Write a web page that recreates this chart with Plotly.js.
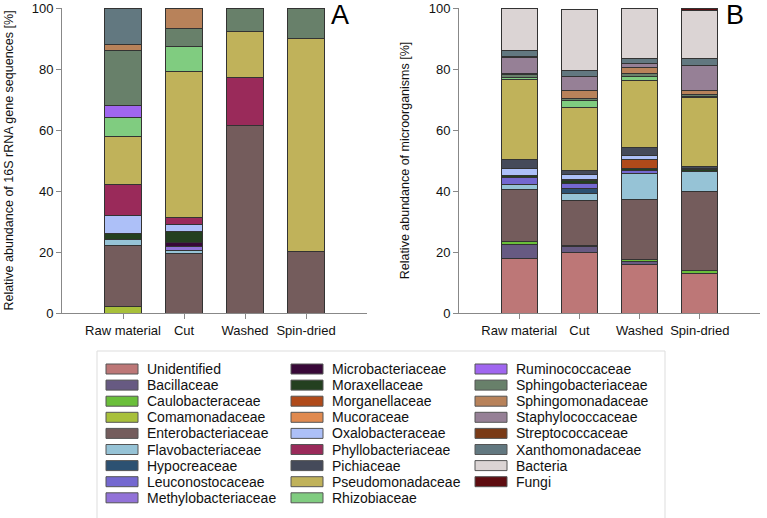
<!DOCTYPE html>
<html>
<head>
<meta charset="utf-8">
<script src="https://cdn.plot.ly/plotly-3.0.1.min.js"></script>
<style>html,body{margin:0;padding:0;background:#fff;}#chart{width:767px;height:518px;}</style>
</head>
<body>
<div id="chart"></div>
<script>
// ---------- data ----------
const samples = ['Raw material', 'Cut', 'Washed', 'Spin-dried'];
const families = ['Unidentified','Bacillaceae','Caulobacteraceae','Comamonadaceae','Enterobacteriaceae',
  'Flavobacteriaceae','Hypocreaceae','Leuconostocaceae','Methylobacteriaceae','Microbacteriaceae',
  'Moraxellaceae','Morganellaceae','Mucoraceae','Oxalobacteraceae','Phyllobacteriaceae','Pichiaceae',
  'Pseudomonadaceae','Rhizobiaceae','Ruminococcaceae','Sphingobacteriaceae','Sphingomonadaceae',
  'Staphylococcaceae','Streptococcaceae','Xanthomonadaceae','Bacteria','Fungi'];
const familyColors = ['#bd7777','#675a82','#6abf3a','#a8c03a','#745c5c',
  '#96c3d6','#2c5172','#7468d0','#9272d8','#380838',
  '#244020','#b04a1a','#e08a50','#adc0f8','#9a2a5a','#454a5a',
  '#c0b25a','#80cc80','#a066f0','#68806a','#b8825a',
  '#968096','#7a3a16','#627880','#dbd4d4','#5e0c10'];

// Panel A: relative abundance of 16S rRNA gene sequences [%]
const a_Comamonadaceae      = [2.0, 0, 0, 0];
const a_Enterobacteriaceae  = [20.0, 19.6, 61.6, 20.1];
const a_Flavobacteriaceae   = [2.0, 1.0, 0, 0];
const a_Methylobacteriaceae = [0, 1.2, 0, 0];
const a_Microbacteriaceae   = [0, 1.4, 0, 0];
const a_Moraxellaceae       = [2.0, 3.4, 0, 0];
const a_Oxalobacteraceae    = [6.0, 2.3, 0, 0];
const a_Phyllobacteriaceae  = [10.0, 2.3, 15.5, 0];
const a_Pseudomonadaceae    = [16.0, 48.1, 15.3, 70.0];
const a_Rhizobiaceae        = [6.0, 8.2, 0, 0];
const a_Ruminococcaceae     = [4.0, 0, 0, 0];
const a_Sphingobacteriaceae = [18.0, 5.7, 7.6, 9.9];
const a_Sphingomonadaceae   = [2.0, 6.8, 0, 0];
const a_Xanthomonadaceae    = [12.0, 0, 0, 0];

// Panel B: relative abundance of microorganisms [%]
const b_Unidentified        = [17.9, 19.9, 16.0, 13.0];
const b_Bacillaceae         = [4.5, 1.8, 0.8, 0];
const b_Caulobacteraceae    = [1.1, 0.5, 0.7, 0.9];
const b_Enterobacteriaceae  = [17.1, 14.7, 19.8, 26.0];
const b_Flavobacteriaceae   = [1.6, 2.3, 8.4, 6.5];
const b_Hypocreaceae        = [0, 1.7, 0, 0];
const b_Leuconostocaceae    = [2.3, 1.6, 0.9, 0];
const b_Moraxellaceae       = [0.7, 0.9, 0.9, 0.5];
const b_Morganellaceae      = [0, 0.5, 2.9, 0];
const b_Oxalobacteraceae    = [2.1, 1.4, 1.1, 0.6];
const b_Pichiaceae          = [2.9, 1.5, 2.8, 0.5];
const b_Pseudomonadaceae    = [26.2, 20.6, 21.9, 22.6];
const b_Rhizobiaceae        = [0.8, 2.4, 1.5, 0.5];
const b_Sphingobacteriaceae = [0.9, 0.5, 0.9, 0.5];
const b_Sphingomonadaceae   = [0.5, 2.7, 1.9, 1.4];
const b_Staphylococcaceae   = [5.3, 4.7, 1.4, 8.0];
const b_Streptococcaceae    = [0.3, 0, 0, 0];
const b_Xanthomonadaceae    = [1.9, 1.9, 1.5, 2.4];
const b_Bacteria            = [13.9, 20.0, 16.5, 15.9];
const b_Fungi               = [0, 0, 0, 0.5];

const yTitleA = 'Relative abundance of 16S rRNA gene sequences [%]';
const yTitleB = 'Relative abundance of microorganisms [%]';

// ---------- lookup tables built from the arrays ----------
const seriesA = {
  Comamonadaceae: a_Comamonadaceae, Enterobacteriaceae: a_Enterobacteriaceae,
  Flavobacteriaceae: a_Flavobacteriaceae, Methylobacteriaceae: a_Methylobacteriaceae,
  Microbacteriaceae: a_Microbacteriaceae, Moraxellaceae: a_Moraxellaceae,
  Oxalobacteraceae: a_Oxalobacteraceae, Phyllobacteriaceae: a_Phyllobacteriaceae,
  Pseudomonadaceae: a_Pseudomonadaceae, Rhizobiaceae: a_Rhizobiaceae,
  Ruminococcaceae: a_Ruminococcaceae, Sphingobacteriaceae: a_Sphingobacteriaceae,
  Sphingomonadaceae: a_Sphingomonadaceae, Xanthomonadaceae: a_Xanthomonadaceae
};
const seriesB = {
  Unidentified: b_Unidentified, Bacillaceae: b_Bacillaceae, Caulobacteraceae: b_Caulobacteraceae,
  Enterobacteriaceae: b_Enterobacteriaceae, Flavobacteriaceae: b_Flavobacteriaceae,
  Hypocreaceae: b_Hypocreaceae, Leuconostocaceae: b_Leuconostocaceae, Moraxellaceae: b_Moraxellaceae,
  Morganellaceae: b_Morganellaceae, Oxalobacteraceae: b_Oxalobacteraceae, Pichiaceae: b_Pichiaceae,
  Pseudomonadaceae: b_Pseudomonadaceae, Rhizobiaceae: b_Rhizobiaceae,
  Sphingobacteriaceae: b_Sphingobacteriaceae, Sphingomonadaceae: b_Sphingomonadaceae,
  Staphylococcaceae: b_Staphylococcaceae, Streptococcaceae: b_Streptococcaceae,
  Xanthomonadaceae: b_Xanthomonadaceae, Bacteria: b_Bacteria, Fungi: b_Fungi
};

// ---------- traces ----------
const FONT = 'Liberation Sans, Arial, Helvetica, sans-serif';
const traces = [];
function addPanel(series, xa, ya) {
  families.forEach((f, i) => {
    if (!series[f]) return;
    traces.push({
      type: 'bar', name: f, x: samples,
      y: series[f].map(v => v === 0 ? null : v),
      xaxis: xa, yaxis: ya, showlegend: false,
      marker: { color: familyColors[i], line: { color: '#333333', width: 1 } },
      hovertemplate: f + ': %{y}%<extra></extra>'
    });
  });
}
addPanel(seriesA, 'x', 'y');
addPanel(seriesB, 'x2', 'y2');

// ---------- layout ----------
const W = 767, H = 518, ML = 62, MR = 7, MT = 8, MB = 205;
const PW = W - ML - MR, PH = H - MT - MB;
const px = x => (x - ML) / PW;
const py = y => (H - MB - y) / PH;

const shapes = [];
const annotations = [];
// legend frame
shapes.push({ type: 'rect', xref: 'paper', yref: 'paper', x0: px(97), x1: px(665), y0: py(351), y1: py(522),
  line: { color: '#dddddd', width: 1 }, fillcolor: 'rgba(0,0,0,0)' });
const colSwatchX = [106, 291, 475], colTextX = [145, 330, 514];
families.forEach((f, i) => {
  const col = Math.floor(i / 9), row = i % 9;
  const cy = 369 + row * 16.1;
  shapes.push({ type: 'rect', xref: 'paper', yref: 'paper',
    x0: px(colSwatchX[col]), x1: px(colSwatchX[col] + 32), y0: py(cy + 5), y1: py(cy - 5),
    fillcolor: familyColors[i], line: { color: '#555555', width: 1 } });
  annotations.push({ xref: 'paper', yref: 'paper', x: px(colTextX[col]), y: py(cy),
    xanchor: 'left', yanchor: 'middle', showarrow: false, text: f,
    font: { family: FONT, size: 14, color: '#111111' } });
});
// panel letters
annotations.push({ xref: 'paper', yref: 'paper', x: px(340), y: py(15), xanchor: 'center', yanchor: 'middle',
  showarrow: false, text: 'A', font: { family: FONT, size: 27, color: '#000' } });
annotations.push({ xref: 'paper', yref: 'paper', x: px(735), y: py(15), xanchor: 'center', yanchor: 'middle',
  showarrow: false, text: 'B', font: { family: FONT, size: 27, color: '#000' } });

const axisCommon = {
  showline: true, linecolor: '#888888', linewidth: 1,
  ticks: 'outside', ticklen: 5, tickcolor: '#888888', showgrid: false, zeroline: false,
  tickfont: { family: FONT, size: 13, color: '#111111' }
};
const layout = {
  width: W, height: H, margin: { l: ML, r: MR, t: MT, b: MB },
  paper_bgcolor: '#ffffff', plot_bgcolor: '#ffffff',
  barmode: 'stack', bargap: 0.4, showlegend: false,
  font: { family: FONT, color: '#111111' },
  xaxis: Object.assign({}, axisCommon, { domain: [0, px(367)], range: [-1, 4], anchor: 'y', type: 'category' }),
  yaxis: Object.assign({}, axisCommon, { domain: [0, 1], range: [0, 100], tickvals: [0, 20, 40, 60, 80, 100], anchor: 'x',
    title: { text: yTitleA, font: { family: FONT, size: 12.5, color: '#111' }, standoff: 15 } }),
  xaxis2: Object.assign({}, axisCommon, { domain: [px(459), 1], range: [-1, 4], anchor: 'y2', type: 'category' }),
  yaxis2: Object.assign({}, axisCommon, { domain: [0, 1], range: [0, 100], tickvals: [0, 20, 40, 60, 80, 100], anchor: 'x2',
    title: { text: yTitleB, font: { family: FONT, size: 12.5, color: '#111' }, standoff: 16 } }),
  shapes: shapes, annotations: annotations
};

Plotly.newPlot('chart', traces, layout, { displayModeBar: false, staticPlot: true });
</script>
</body>
</html>
